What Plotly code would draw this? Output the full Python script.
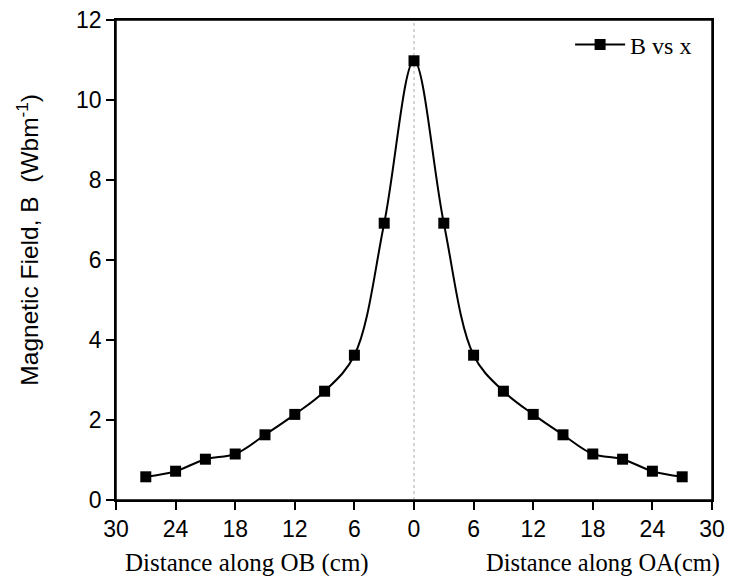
import plotly.graph_objects as go

x_cm = [-27, -24, -21, -18, -15, -12, -9, -6, -3, 0, 3, 6, 9, 12, 15, 18, 21, 24, 27]
b_field = [0.58, 0.72, 1.02, 1.15, 1.63, 2.14, 2.72, 3.62, 6.92, 10.98,
           6.92, 3.62, 2.72, 2.14, 1.63, 1.15, 1.02, 0.72, 0.58]
x_tickvals = [-30, -24, -18, -12, -6, 0, 6, 12, 18, 24, 30]
x_ticktext = ["30", "24", "18", "12", "6", "0", "6", "12", "18", "24", "30"]
y_tickvals = [0, 2, 4, 6, 8, 10, 12]

SANS = "Liberation Sans, Arial, sans-serif"
SERIF = "Liberation Serif, Times New Roman, serif"

fig = go.Figure()
fig.add_trace(go.Scatter(
    x=x_cm, y=b_field, mode="lines+markers", name="B vs x",
    line=dict(color="black", width=2, shape="spline", smoothing=1),
    marker=dict(symbol="square", size=11, color="black"),
))

fig.add_shape(type="line", xref="x", yref="paper", x0=0, x1=0, y0=0, y1=1,
              line=dict(color="#aaaaaa", width=1, dash="dot"), layer="below")
# plot frame
fig.add_shape(type="rect", xref="paper", yref="paper", x0=0, x1=1, y0=0, y1=1,
              line=dict(color="black", width=1.5), fillcolor="rgba(0,0,0,0)",
              layer="above")

# page body has an 8px margin; figure sized so the document fits the window
fig.update_layout(
    width=717, height=568,
    margin=dict(l=108, r=13, t=12, b=76),
    plot_bgcolor="white", paper_bgcolor="white",
    showlegend=True,
    legend=dict(x=0.975, y=0.995, xanchor="right", yanchor="top",
                font=dict(family=SERIF, size=24, color="black"),
                bgcolor="rgba(0,0,0,0)", itemwidth=50),
    xaxis=dict(range=[-30, 30], tickvals=x_tickvals, ticktext=x_ticktext,
               automargin=False, ticklabeloverflow="allow",
               showgrid=False, zeroline=False, showline=True, linecolor="black",
               linewidth=1.5, mirror=True, ticks="outside", ticklen=8,
               tickcolor="black", tickwidth=1.5,
               tickfont=dict(family=SANS, size=23, color="black")),
    yaxis=dict(range=[0, 12], tickvals=y_tickvals,
               automargin=False, ticklabeloverflow="allow",
               showgrid=False, zeroline=False, showline=True, linecolor="black",
               linewidth=1.5, mirror=True, ticks="outside", ticklen=8,
               tickcolor="black", tickwidth=1.5,
               tickfont=dict(family=SANS, size=23, color="black")),
    annotations=[
        dict(text="Magnetic Field, B  (Wbm<sup>-1</sup>)", xref="paper", yref="paper",
             x=-0.148, y=0.542, xanchor="center", yanchor="middle", textangle=-90,
             showarrow=False, font=dict(family=SANS, size=24.5, color="black")),
        dict(text="Distance along OB (cm)", xref="paper", yref="paper",
             x=0.219, y=-0.131, xanchor="center", yanchor="middle", showarrow=False,
             font=dict(family=SERIF, size=25, color="black")),
        dict(text="Distance along OA(cm)", xref="paper", yref="paper",
             x=1.017, y=-0.131, xanchor="right", yanchor="middle", showarrow=False,
             font=dict(family=SERIF, size=24.5, color="black")),
    ],
)

fig.write_html("out.html")
